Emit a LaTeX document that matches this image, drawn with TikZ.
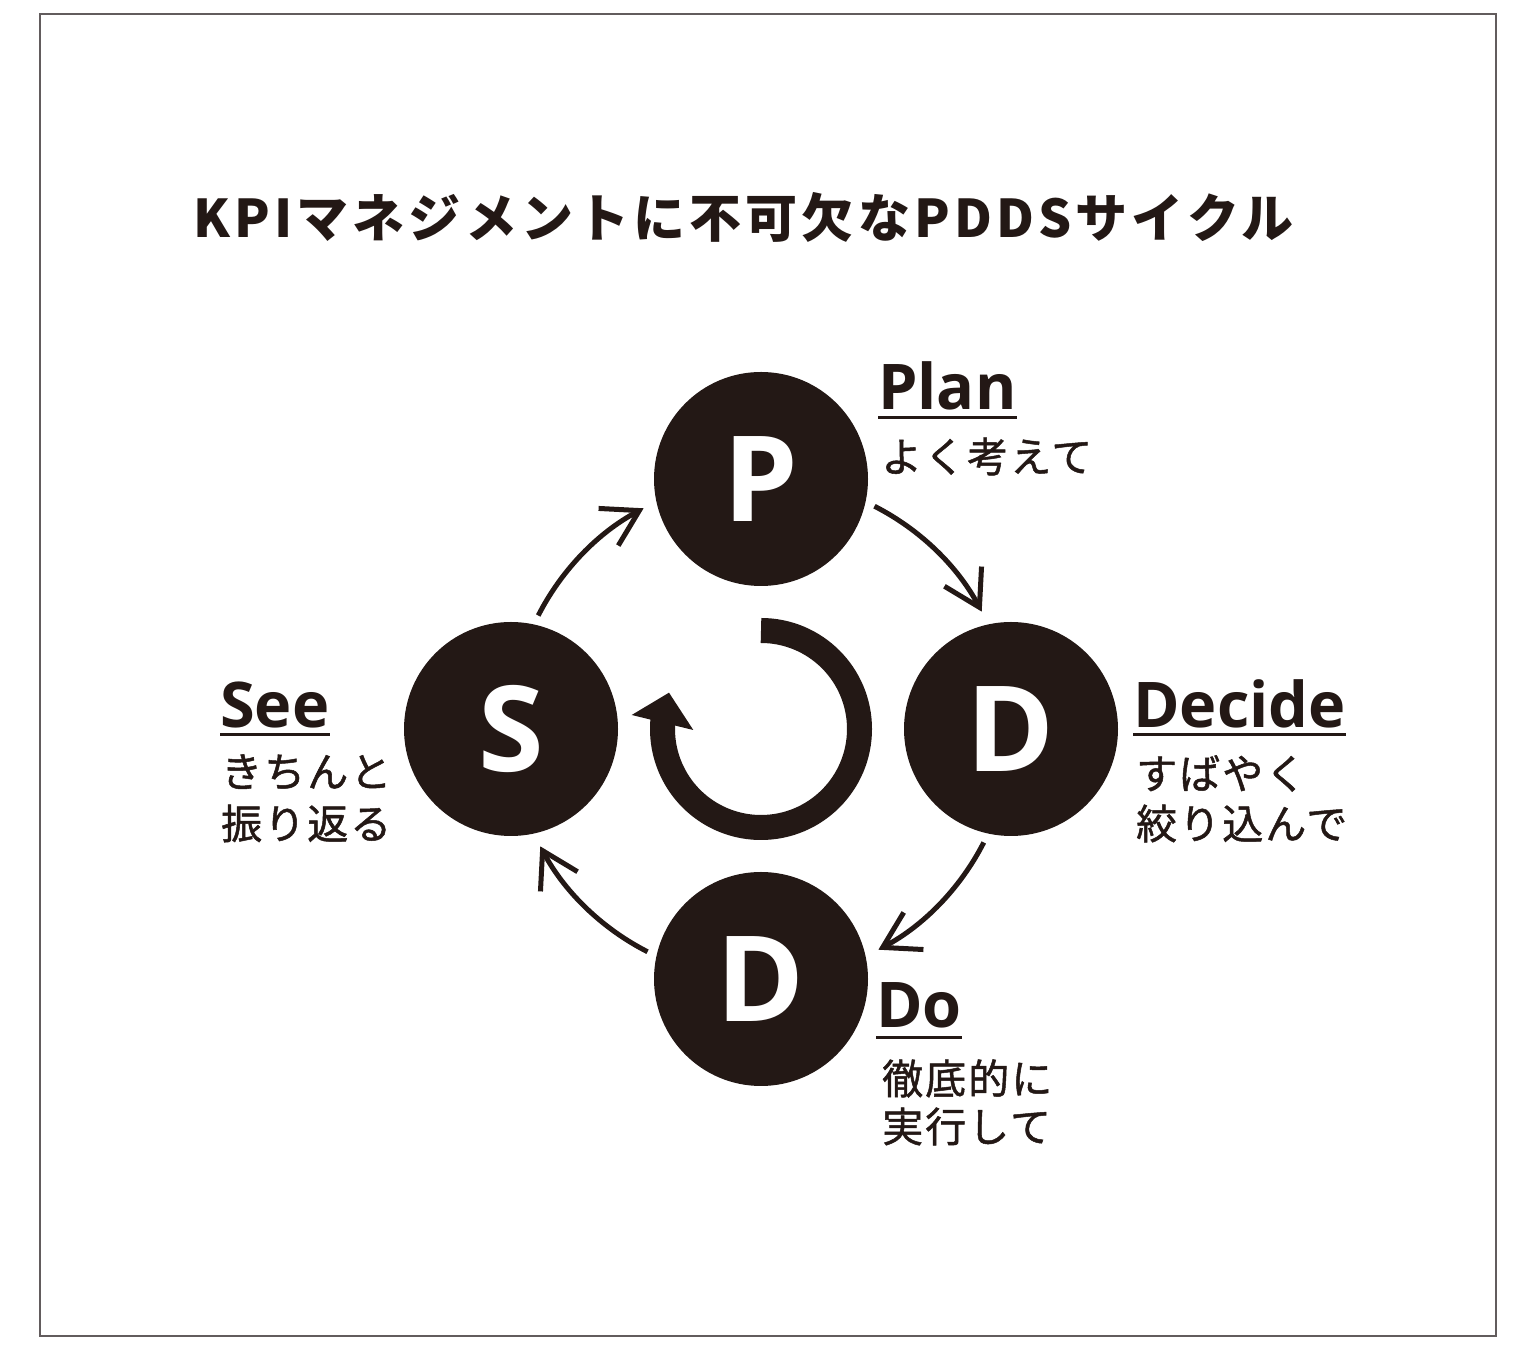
\documentclass[tikz,border=0pt]{standalone}
\usepackage{fontspec}
\usetikzlibrary{arrows.meta,calc}
\newfontfamily\jpfont{Noto Sans CJK JP}[LetterSpace=5,FakeBold=1.2]
\newfontfamily\jptitle{Noto Sans CJK JP}[LetterSpace=8]
\newfontfamily\osfont{Open Sans}
\definecolor{ink}{HTML}{231815}
\definecolor{framegray}{HTML}{625C5D}
\begin{document}
\begin{tikzpicture}[x=1pt,y=1pt,
  stagecircle/.style={circle, fill=ink, minimum size=214pt, inner sep=0pt, text=white,
    font=\osfont\bfseries\fontsize{119}{119}\selectfont},
  conn/.style={draw=ink, line width=5pt, -{Straight Barb[length=35pt,width=42pt]}},
  enlabel/.style={inner sep=0pt, anchor=base west, text=ink,
    font=\osfont\bfseries\fontsize{63}{63}\selectfont},
  jplabel/.style={inner sep=0pt, anchor=base west, text=ink,
    font=\jpfont\fontsize{41}{41}\selectfont},
  uline/.style={draw=ink, line width=3pt},
]
\useasboundingbox (0,0) rectangle (1540,1360);
\fill[white] (0,0) rectangle (1540,1360);
\draw[framegray, line width=2pt] (40,1346) rectangle (1496,24);

\node[anchor=base, inner sep=0pt, text=ink, font=\jptitle\bfseries\fontsize{52}{52}\selectfont]
  (title) at (743.5,1122) {KPIマネジメントに不可欠なPDDSサイクル};

\coordinate (c) at (761,631);
\node[stagecircle] (P) at (761,881) {P};
\node[stagecircle] (D1) at (1011,631) {D};
\node[stagecircle] (D2) at (761,381) {D};
\node[stagecircle] (S) at (511,631) {S};

\draw[conn] (P) ++(-13.5:116.7) arc[start angle=63,end angle=28,radius=250];
\draw[conn] (D1) ++(-103.5:116.7) arc[start angle=-27,end angle=-62,radius=250];
\draw[conn] (D2) ++(166.5:116.7) arc[start angle=-117,end angle=-152,radius=250];
\draw[conn] (S) ++(76.5:116.7) arc[start angle=153,end angle=118,radius=250];

\draw[ink, line width=25pt] (c) ++(90:98.5) arc[start angle=90,end angle=-186,radius=98.5];
\fill[ink] ($(c)+(-92,36.3)$) -- ($(c)+(-129.3,14)$) -- ($(c)+(-67.7,-1)$) -- cycle;

\node[enlabel] (plan) at (878,950) {Plan};
\draw[uline] ([yshift=-8pt]plan.base west) -- ([yshift=-8pt]plan.base east);
\node[jplabel] (planjp) at (881,888) {よく考えて};

\node[enlabel] (decide) at (1133,632) {Decide};
\draw[uline] ([yshift=-7pt]decide.base west) -- ([yshift=-7pt]decide.base east);
\node[jplabel] (decidejpa) at (1136,571) {すばやく};
\node[jplabel] (decidejpb) at (1136,521) {絞り込んで};

\node[enlabel] (see) at (220,632) {See};
\draw[uline] ([yshift=-7pt]see.base west) -- ([yshift=-7pt]see.base east);
\node[jplabel] (seejpa) at (221,573) {きちんと};
\node[jplabel] (seejpb) at (221,521) {振り返る};

\node[enlabel] (do) at (876,332) {Do};
\draw[uline] ([yshift=-10pt]do.base west) -- ([yshift=-10pt]do.base east);
\node[jplabel] (dojpa) at (882,266) {徹底的に};
\node[jplabel] (dojpb) at (882,218) {実行して};
\end{tikzpicture}
\end{document}
